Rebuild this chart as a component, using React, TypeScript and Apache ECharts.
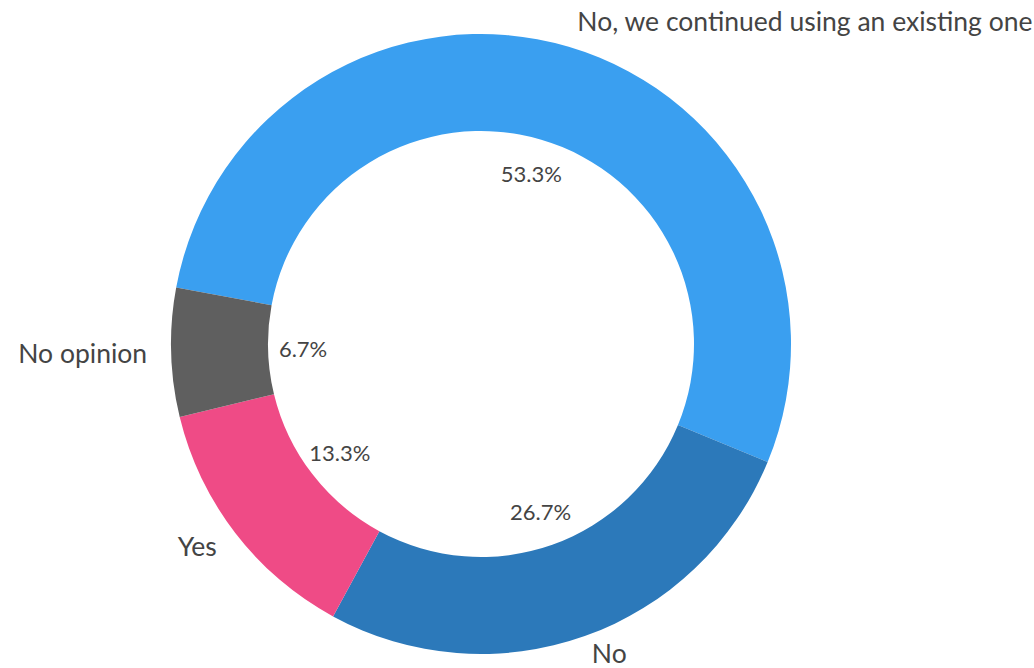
import React, { useEffect, useRef } from "react";
import * as echarts from "echarts";

const categories = [
  "No, we continued using an existing one",
  "No",
  "Yes",
  "No opinion",
];
const shares = [53.3, 26.7, 13.3, 6.7];
const palette = ["#3a9ff0", "#2c79ba", "#ef4b86", "#5f5f5f"];
const outerLabelGap = [27, 18, 22, 23];

const FONT = "Lato, 'Noto Sans', sans-serif";

export default function App() {
  const ref = useRef<HTMLDivElement>(null);

  useEffect(() => {
    if (!ref.current) return;
    const chart = echarts.init(ref.current, undefined, { renderer: "svg" });
    const data = categories.map((name, i) => ({
      name,
      value: shares[i],
      itemStyle: { color: palette[i] },
      labelLine: { show: false, length: outerLabelGap[i], length2: 0 },
    }));
    chart.setOption({
      animation: false,
      backgroundColor: "#ffffff",
      series: [
        {
          type: "pie",
          center: [481, 344],
          radius: [213, 310],
          startAngle: 169.5,
          clockwise: true,
          avoidLabelOverlap: false,
          silent: true,
          data,
          label: {
            show: true,
            position: "outside",
            alignTo: "none",
            bleedMargin: 0,
            distanceToLabelLine: 1,
            formatter: "{b}",
            color: "#444444",
            fontSize: 26.5,
            fontFamily: FONT,
          },
          labelLine: { show: false, length: 22, length2: 0 },
        },
        {
          type: "pie",
          center: [481, 344],
          radius: [140, 210],
          startAngle: 169.5,
          clockwise: true,
          silent: true,
          avoidLabelOverlap: false,
          data: categories.map((name, i) => ({ name, value: shares[i] })),
          itemStyle: { color: "rgba(0,0,0,0)" },
          label: {
            show: true,
            position: "inside",
            formatter: (p: any) => `${Number(p.value).toFixed(1)}%`,
            color: "#444444",
            fontSize: 22,
            fontFamily: FONT,
          },
          labelLine: { show: false },
        },
      ],
    });
    return () => chart.dispose();
  }, []);

  return (
    <div
      ref={ref}
      style={{ position: "fixed", left: 0, top: 0, width: 1034, height: 668 }}
    />
  );
}
